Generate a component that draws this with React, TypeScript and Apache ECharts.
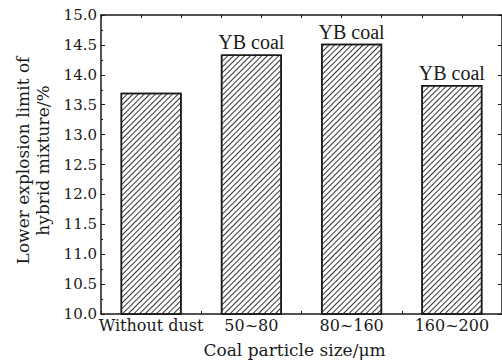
import React, { useEffect, useRef } from "react";
import * as echarts from "echarts";

const categories = ["Without dust", "50~80", "80~160", "160~200"];
const lelValues = [13.7, 14.34, 14.52, 13.83];
const barLabels = ["", "YB coal", "YB coal", "YB coal"];
const yTickMin = 10;
const yTickMax = 15;
const yTickStep = 0.5;

const FONT = "'DejaVu Serif', serif";
const LABEL_FONT = "'Liberation Serif', serif";
const INK = "#1a1a1a";

export default function App() {
  const ref = useRef<HTMLDivElement>(null);
  useEffect(() => {
    if (!ref.current) return;
    const chart = echarts.init(ref.current, undefined, { renderer: "svg" });
    const tickInside = (len: number) => ({ show: true, inside: true, length: len, lineStyle: { color: INK, width: 1 } });
    chart.setOption({
      animation: false,
      backgroundColor: "#fff",
      textStyle: { fontFamily: FONT, color: INK },
      grid: { left: 101, right: 0, top: 15, bottom: 46, containLabel: false },
      xAxis: [
        {
          type: "category",
          data: categories,
          position: "bottom",
          axisLine: { show: true, lineStyle: { color: INK, width: 1.5 } },
          axisTick: tickInside(3),
          axisLabel: { color: INK, fontFamily: FONT, fontSize: 16, margin: 3, interval: 0, hideOverlap: false },
          name: "Coal particle size/\u03bcm",
          nameLocation: "middle",
          nameGap: 27,
          nameTextStyle: { color: INK, fontFamily: FONT, fontSize: 17, padding: [0, 14, 0, 0] },
        },
        {
          type: "value",
          position: "top",
          min: 0,
          max: 10,
          interval: 1,
          axisLine: { show: true, onZero: false, lineStyle: { color: INK, width: 1.5 } },
          axisTick: tickInside(3),
          axisLabel: { show: false },
          splitLine: { show: false },
        },
      ],
      yAxis: [
        {
          type: "value",
          min: yTickMin,
          max: yTickMax,
          interval: yTickStep,
          position: "left",
          axisLine: { show: true, lineStyle: { color: INK, width: 1.5 } },
          axisTick: tickInside(4),
          minorTick: { show: true, splitNumber: 2, length: 2, lineStyle: { color: INK, width: 1 } },
          axisLabel: {
            color: INK,
            fontFamily: FONT,
            fontSize: 15,
            margin: 4,
            formatter: (v: number) => v.toFixed(1),
          },
          splitLine: { show: false },
          name: "Lower explosion limit of\nhybrid mixture/%",
          nameLocation: "middle",
          nameGap: 47,
          nameTextStyle: { color: INK, fontFamily: FONT, fontSize: 17, lineHeight: 20, padding: [0, 0, 0, 8] },
        },
        {
          type: "value",
          min: yTickMin,
          max: yTickMax,
          interval: yTickStep,
          position: "right",
          axisLine: { show: true, lineStyle: { color: INK, width: 1.5 } },
          axisTick: tickInside(4),
          axisLabel: { show: false },
          splitLine: { show: false },
        },
      ],
      series: [
        {
          type: "bar",
          xAxisIndex: 0,
          yAxisIndex: 0,
          barWidth: 61,
          data: lelValues,
          label: {
            show: true,
            position: "top",
            distance: 2,
            formatter: (p: any) => "{t|" + barLabels[p.dataIndex] + "}",
            rich: {
              t: { fontFamily: LABEL_FONT, fontSize: 20, color: INK },
            },
          },
          itemStyle: {
            color: "#fff",
            borderColor: INK,
            borderWidth: 1.5,
            decal: {
              symbol: "rect",
              symbolSize: 1,
              dashArrayX: [1, 0],
              dashArrayY: [1, 3],
              rotation: -Math.PI / 4,
              color: "#333",
              backgroundColor: "#fff",
            },
          },
        },
      ],
    });
    return () => chart.dispose();
  }, []);
  return (
    <div
      ref={ref}
      style={{ position: "fixed", left: 0, top: 0, width: 502, height: 363, background: "#fff" }}
    />
  );
}
